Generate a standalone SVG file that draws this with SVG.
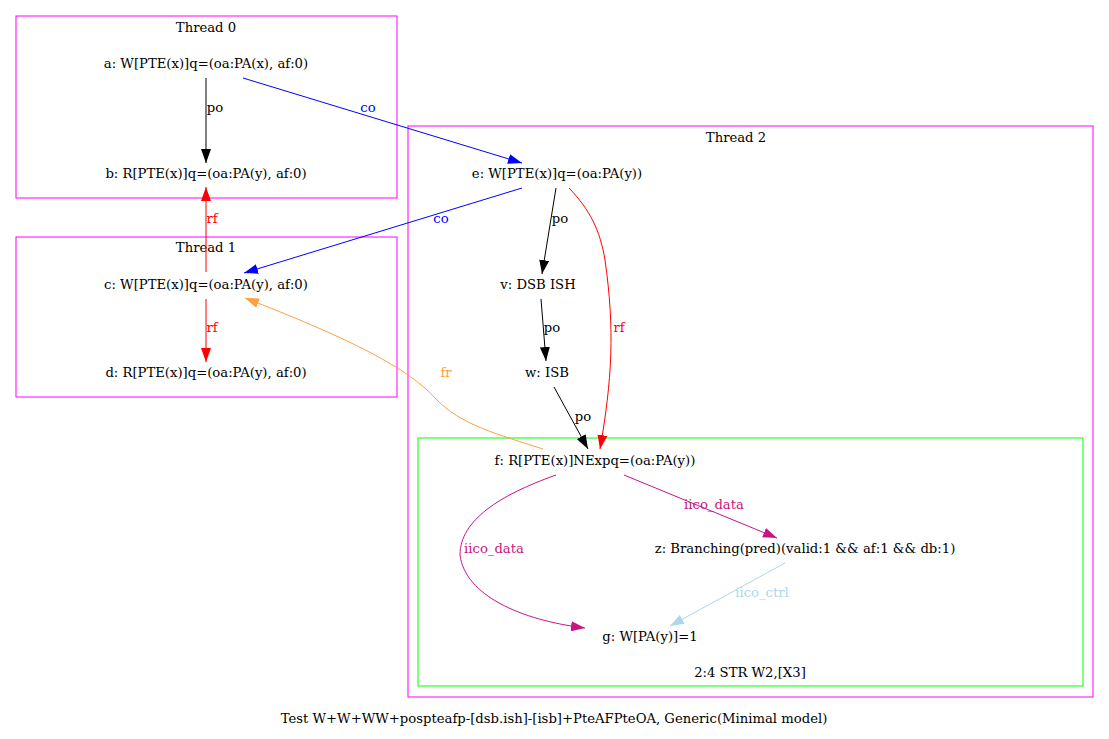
<svg xmlns="http://www.w3.org/2000/svg" width="1109" height="739" viewBox="0 0 1109 739">
  <style>
    text { font-family: "DejaVu Serif", "Liberation Serif", serif; font-size: 13.2px; text-anchor: middle; fill: #000; }
    .cl { fill: none; stroke: #ff00ff; stroke-width: 1; }
    .clg { fill: none; stroke: #00ff00; stroke-width: 1; }
    .e { fill: none; stroke-width: 1; }
    .k { stroke: #000; }
    .b { stroke: #0000ff; }
    .r { stroke: #ff0000; }
    .o { stroke: #ffa040; }
    .m { stroke: #c71585; }
    .lb { stroke: #add8e6; }
    .tb { fill: #0000ff; }
    .tr { fill: #ff0000; }
    .to { fill: #ffa040; }
    .tm { fill: #c71585; }
    .tlb { fill: #add8e6; }
  </style>
  <defs>
    <marker id="ak" markerWidth="14" markerHeight="10" refX="14" refY="5" orient="auto" markerUnits="userSpaceOnUse"><path d="M0,0 L14,5 L0,10 Z" fill="#000"/></marker>
    <marker id="ab" markerWidth="14" markerHeight="10" refX="14" refY="5" orient="auto" markerUnits="userSpaceOnUse"><path d="M0,0 L14,5 L0,10 Z" fill="#0000ff"/></marker>
    <marker id="ar" markerWidth="14" markerHeight="10" refX="14" refY="5" orient="auto" markerUnits="userSpaceOnUse"><path d="M0,0 L14,5 L0,10 Z" fill="#ff0000"/></marker>
    <marker id="ao" markerWidth="14" markerHeight="10" refX="14" refY="5" orient="auto" markerUnits="userSpaceOnUse"><path d="M0,0 L14,5 L0,10 Z" fill="#ffa040"/></marker>
    <marker id="am" markerWidth="14" markerHeight="10" refX="14" refY="5" orient="auto" markerUnits="userSpaceOnUse"><path d="M0,0 L14,5 L0,10 Z" fill="#c71585"/></marker>
    <marker id="alb" markerWidth="14" markerHeight="10" refX="14" refY="5" orient="auto" markerUnits="userSpaceOnUse"><path d="M0,0 L14,5 L0,10 Z" fill="#add8e6"/></marker>
  </defs>
  <rect width="1109" height="739" fill="#fff"/>

  <!-- clusters -->
  <g id="thread0"><rect class="cl" x="16" y="16" width="381" height="182"/><text x="206" y="32">Thread 0</text></g>
  <g id="thread1"><rect class="cl" x="16" y="237" width="381" height="160"/><text x="206" y="252">Thread 1</text></g>
  <g id="thread2"><rect class="cl" x="408" y="126" width="685" height="571"/><text x="736" y="142">Thread 2</text></g>
  <g id="instr"><rect class="clg" x="418" y="438" width="665" height="248"/><text x="750" y="677">2:4 STR W2,[X3]</text></g>

  <!-- connectors -->
  <g id="edges">
    <path class="e k" d="M206,78 L206,163" marker-end="url(#ak)"/>
    <text x="215" y="112">po</text>
    <path class="e b" d="M243,78 L522,163" marker-end="url(#ab)"/>
    <text class="tb" x="368" y="112">co</text>
    <path class="e r" d="M206,272 L206,187" marker-end="url(#ar)"/>
    <text class="tr" x="212" y="223">rf</text>
    <path class="e r" d="M206,299 L206,362" marker-end="url(#ar)"/>
    <text class="tr" x="212" y="332">rf</text>
    <path class="e b" d="M522,188 L244,273" marker-end="url(#ab)"/>
    <text class="tb" x="441" y="223">co</text>
    <path class="e k" d="M556,188 L542,274" marker-end="url(#ak)"/>
    <text x="560" y="223">po</text>
    <path class="e k" d="M541,299 L546,361" marker-end="url(#ak)"/>
    <text x="552" y="332">po</text>
    <path class="e k" d="M554,387 L588,449" marker-end="url(#ak)"/>
    <text x="583" y="421">po</text>
    <path class="e r" d="M569,188 C590,210 600,230 605,260 C615,330 612,380 600,449" marker-end="url(#ar)"/>
    <text class="tr" x="619" y="332">rf</text>
    <path class="e o" d="M543,449 C500,435 460,425 435,398 C405,365 340,335 245,298" marker-end="url(#ao)"/>
    <text class="to" x="446" y="377">fr</text>
    <path class="e m" d="M556,475 C500,495 460,520 460,555 C465,595 520,620 585,628" marker-end="url(#am)"/>
    <text class="tm" x="494" y="553">iico_data</text>
    <path class="e m" d="M624,475 L777,538" marker-end="url(#am)"/>
    <text class="tm" x="714" y="509">iico_data</text>
    <path class="e lb" d="M785,563 L670,626" marker-end="url(#alb)"/>
    <text class="tlb" x="762" y="597">iico_ctrl</text>
  </g>

  <!-- nodes -->
  <g id="a"><text x="206" y="68">a: W[PTE(x)]q=(oa:PA(x), af:0)</text></g>
  <g id="b"><text x="206" y="178">b: R[PTE(x)]q=(oa:PA(y), af:0)</text></g>
  <g id="c"><text x="206" y="289">c: W[PTE(x)]q=(oa:PA(y), af:0)</text></g>
  <g id="d"><text x="206" y="377">d: R[PTE(x)]q=(oa:PA(y), af:0)</text></g>
  <g id="e"><text x="557" y="178">e: W[PTE(x)]q=(oa:PA(y))</text></g>
  <g id="v"><text x="538" y="289">v: DSB ISH</text></g>
  <g id="w"><text x="547" y="377">w: ISB</text></g>
  <g id="f"><text x="595" y="465">f: R[PTE(x)]NExpq=(oa:PA(y))</text></g>
  <g id="z"><text x="805" y="553">z: Branching(pred)(valid:1 &amp;&amp; af:1 &amp;&amp; db:1)</text></g>
  <g id="g"><text x="650" y="641">g: W[PA(y)]=1</text></g>

  <text x="554" y="723">Test W+W+WW+pospteafp-[dsb.ish]-[isb]+PteAFPteOA, Generic(Minimal model)</text>
</svg>
